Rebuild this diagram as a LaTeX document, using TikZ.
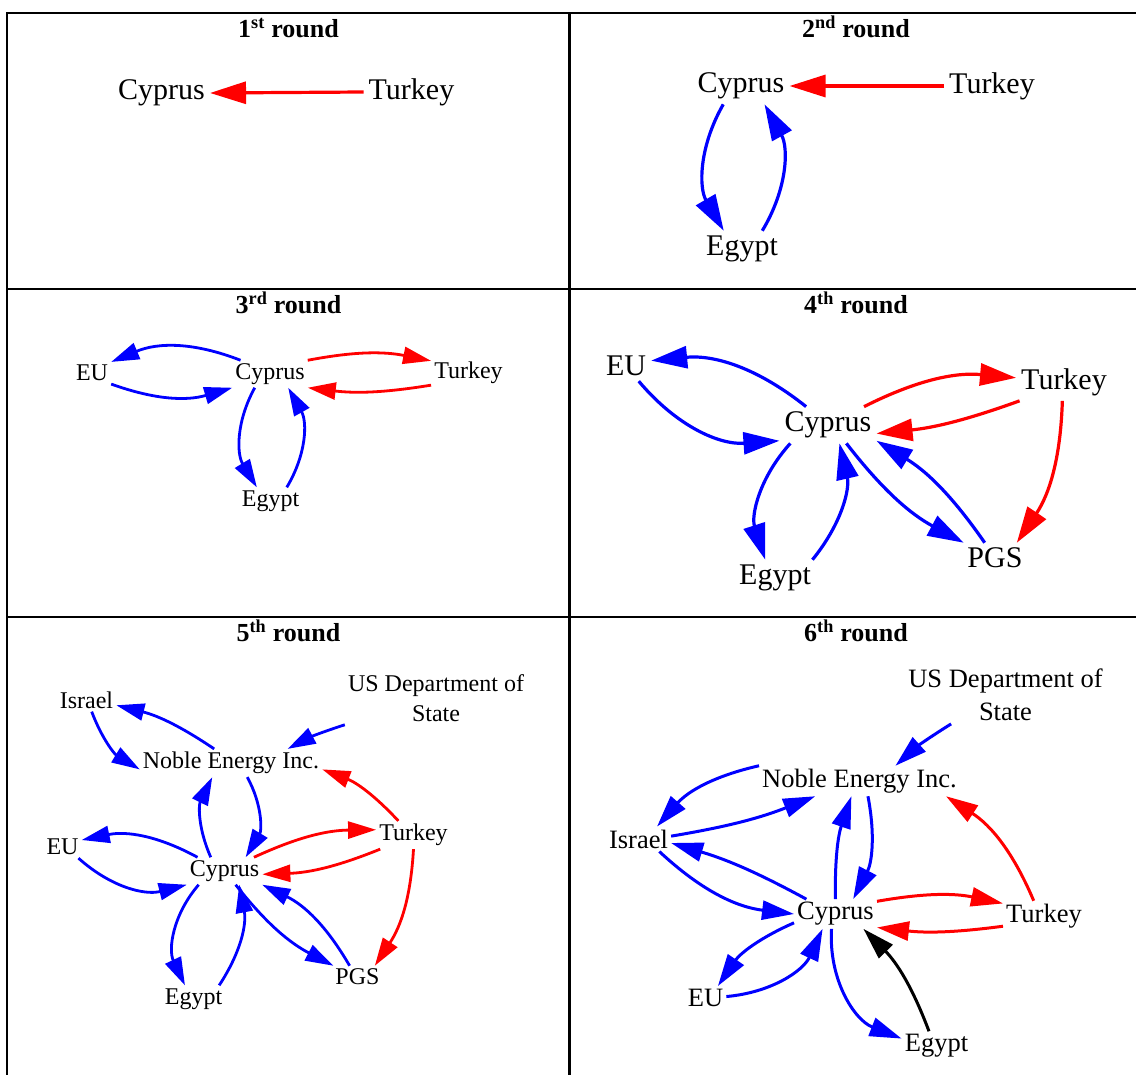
\documentclass[tikz,border=0pt]{standalone}
\usepackage{fontspec}
\setmainfont{Liberation Serif}
\usetikzlibrary{arrows.meta}

\tikzset{
  lblL/.style={font=\fontsize{30}{36}\selectfont, inner sep=5pt},
  lblM/.style={font=\fontsize{26.5}{32.5}\selectfont, inner sep=3pt, align=center},
  lblS/.style={font=\fontsize{24}{30}\selectfont, inner sep=3pt, align=center},
  roundtitle/.style={font=\fontsize{26}{30}\selectfont\bfseries, anchor=base, inner sep=0pt},
  lnkL/.style={line width=3.2pt, -{Triangle[length=36pt,width=22pt]}},
  lnkM/.style={line width=3pt, -{Triangle[length=32pt,width=19pt]}},
  lnkS/.style={line width=2.8pt, -{Triangle[length=28pt,width=17pt]}},
  grid line/.style={line width=2.5pt, line cap=rect}
}

\begin{document}
\begin{tikzpicture}[x=1pt,y=1pt]
        \useasboundingbox (0,0) rectangle (1136,-1075);

        % Table frame
        \draw[grid line] (7,-13) -- (1136,-13);
        \draw[grid line] (7,-289) -- (1136,-289);
        \draw[grid line] (7,-617) -- (1136,-617);
        \draw[grid line] (7,-13) -- (7,-1075);
        \draw[grid line] (569.5,-13) -- (569.5,-1075);

        % 1st round
        \node[roundtitle] (r1) at (288.5,-37.5) {1\textsuperscript{st} round};
        \node[lblL] (cyp1) at (161.5,-93) {Cyprus};
        \node[lblL] (tur1) at (411.5,-92) {Turkey};
        \draw[lnkL, red] (tur1.west) -- (cyp1.east);

        % 2nd round
        \node[roundtitle] (r2) at (856,-37.5) {2\textsuperscript{nd} round};
        \node[lblL] (cyp2) at (741,-86) {Cyprus};
        \node[lblL] (tur2) at (992,-86) {Turkey};
        \node[lblL] (egy2) at (742,-249) {Egypt};
        \draw[lnkL, red] (tur2.west) -- (cyp2.east);
        \draw[lnkL, blue] (cyp2.226) to[bend right=30] (egy2.135);
        \draw[lnkL, blue] (egy2.42) to[bend right=30] (cyp2.-38);

        % 3rd round
        \node[roundtitle] (r3) at (288.5,-313.3) {3\textsuperscript{rd} round};
        \node[lblS] (eu3) at (92,-373) {EU};
        \node[lblS] (cyp3) at (270,-374) {Cyprus};
        \node[lblS] (tur3) at (468.5,-373) {Turkey};
        \node[lblS] (egy3) at (270.5,-501) {Egypt};
        \draw[lnkS, blue] (cyp3.155) to[bend right=22] (eu3.30);
        \draw[lnkS, blue] (eu3.-30) to[bend right=18] (cyp3.200);
        \draw[lnkS, red] (cyp3.20) to[bend left=11] (tur3.162);
        \draw[lnkS, red] (tur3.198) to[bend left=8] (cyp3.-20);
        \draw[lnkS, blue] (cyp3.222) to[bend right=30] (egy3.135);
        \draw[lnkS, blue] (egy3.40) to[bend right=30] (cyp3.-37);

        % 4th round
        \node[roundtitle] (r4) at (856,-313.3) {4\textsuperscript{th} round};
        \node[lblL] (eu4) at (626,-366) {EU};
        \node[lblL] (tur4) at (1064,-382) {Turkey};
        \node[lblL] (cyp4) at (828,-425) {Cyprus};
        \node[lblL] (egy4) at (775,-578) {Egypt};
        \node[lblL] (pgs4) at (995,-558) {PGS};
        \draw[lnkL, blue] (cyp4.140) to[bend right=22] (eu4.12);
        \draw[lnkL, blue] (eu4.-50) to[bend right=27] (cyp4.198);
        \draw[lnkL, red] (cyp4.27) to[bend left=16] (tur4.175);
        \draw[lnkL, red] (tur4.203) to[bend left=7] (cyp4.-10);
        \draw[lnkL, red] (tur4.-95) to[bend left=16] (pgs4.35);
        \draw[lnkL, blue] (cyp4.206) to[bend right=30] (egy4.118);
        \draw[lnkL, blue] (egy4.26) to[bend right=26] (cyp4.-58);
        \draw[lnkL, blue] (cyp4.-45) to[bend right=12] (pgs4.154);
        \draw[lnkL, blue] (pgs4.124) to[bend right=12] (cyp4.-18);

        % 5th round
        \node[roundtitle] (r5) at (288.5,-641.7) {5\textsuperscript{th} round};
        \node[lblS] (isr5) at (86.5,-700) {Israel};
        \node[lblS] (usd5) at (436,-698) {US Department of\\State};
        \node[lblS] (nob5) at (231,-763) {Noble Energy Inc.};
        \node[lblS] (tur5) at (413.5,-835) {Turkey};
        \node[lblS] (eu5) at (62.5,-847) {EU};
        \node[lblS] (cyp5) at (224.5,-871) {Cyprus};
        \node[lblS] (pgs5) at (357.5,-977) {PGS};
        \node[lblS] (egy5) at (193.5,-999) {Egypt};
        \draw[lnkS, blue] (nob5.140) to[bend right=10] (isr5.-10);
        \draw[lnkS, blue] (isr5.-66) to[bend right=19] (nob5.184);
        \draw[lnkS, blue] (usd5.south west) to[bend right=5] (nob5.14);
        \draw[lnkS, red] (tur5.137) to[bend right=13] (nob5.-4);
        \draw[lnkS, blue] (cyp5.135) to[bend left=25] (nob5.217.5);
        \draw[lnkS, blue] (nob5.-41) to[bend left=30] (cyp5.33);
        \draw[lnkS, blue] (cyp5.153) to[bend right=20] (eu5.20);
        \draw[lnkS, blue] (eu5.-35) to[bend right=28] (cyp5.200);
        \draw[lnkS, red] (cyp5.25) to[bend left=12] (tur5.172);
        \draw[lnkS, red] (tur5.203) to[bend left=10] (cyp5.-5);
        \draw[lnkS, red] (tur5.-90) to[bend left=15] (pgs5.33);
        \draw[lnkS, blue] (cyp5.208) to[bend right=33] (egy5.122);
        \draw[lnkS, blue] (egy5.28) to[bend right=22] (cyp5.-43);
        \draw[lnkS, blue] (cyp5.-51) to[bend right=12] (pgs5.155);
        \draw[lnkS, blue] (pgs5.125) to[bend right=17] (cyp5.-20);

        % 6th round
        \node[roundtitle] (r6) at (856,-641.7) {6\textsuperscript{th} round};
        \node[lblM] (usd6) at (1005.5,-695) {US Department of\\State};
        \node[lblM] (nob6) at (859.5,-781) {Noble Energy Inc.};
        \node[lblM] (isr6) at (638.5,-839) {Israel};
        \node[lblM] (cyp6) at (835.5,-914) {Cyprus};
        \node[lblM] (tur6) at (1044,-916) {Turkey};
        \node[lblM] (eu6) at (705.5,-998) {EU};
        \node[lblM] (egy6) at (936.5,-1046) {Egypt};
        \draw[lnkM, blue] (usd6.208) to[bend right=5] (nob6.23);
        \draw[lnkM, blue] (nob6.north west) to[bend right=18] (isr6.34);
        \draw[lnkM, blue] (isr6.5) to[bend right=6] (nob6.199);
        \draw[lnkM, blue] (cyp6.153) to[bend right=6] (isr6.-7);
        \draw[lnkM, blue] (isr6.-31) to[bend right=18] (cyp6.180);
        \draw[lnkM, blue] (cyp6.90) to[bend left=10] (nob6.242);
        \draw[lnkM, blue] (nob6.-61) to[bend left=19] (cyp6.40);
        \draw[lnkM, red] (tur6.124) to[bend right=17] (nob6.-10);
        \draw[lnkM, red] (cyp6.17) to[bend left=11] (tur6.163);
        \draw[lnkM, red] (tur6.194) to[bend left=7] (cyp6.-18);
        \draw[lnkM, blue] (cyp6.192) to[bend right=16] (eu6.44);
        \draw[lnkM, blue] (eu6.4) to[bend right=30] (cyp6.229);
        \draw[lnkM, blue] (cyp6.255) to[bend right=36] (egy6.168);
        \draw[lnkM, black] (egy6.117) to[bend right=12] (cyp6.-28);
\end{tikzpicture}
\end{document}
